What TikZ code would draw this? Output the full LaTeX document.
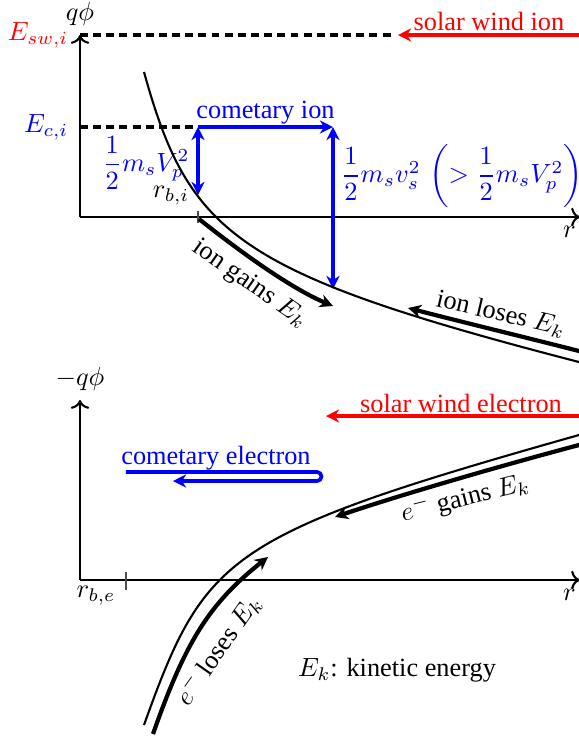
\documentclass[tikz,border=0pt]{standalone}
\usepackage{amsmath}
\usepackage[no-math]{fontspec}
\setmainfont{Liberation Serif}
\usetikzlibrary{arrows.meta,positioning}
\tikzset{hd/.tip={Stealth[length=5pt, width=5pt, inset=1.6pt]}}

\begin{document}
\begin{tikzpicture}[x=0.38pt, y=-0.38pt, axis/.style={thick, ->}, pot/.style={thick}, flow/.style={line width=1.6pt, -hd}, beam/.style={line width=1.4pt, -hd}, lvl/.style={line width=1.3pt, dash pattern=on 3pt off 2pt}, tick/.style={black!70}]
\useasboundingbox (0,0) rectangle (579,738);
% ion panel
\coordinate (o1) at (80,217); \coordinate (y1) at (80,35); \coordinate (x1) at (580,217);
\draw[axis] (o1) -- (y1);
\draw[axis] (o1) -- (x1);
\node[above=0pt of y1] (qi) {$q\phi$};
\node[below=0pt of x1, xshift=-4pt] (ri) {$r$};
\node[red, left=1pt of y1] (esw) {$E_{sw,i}$};
\coordinate (swend) at (393,35);
\draw[lvl] (y1) -- (swend);
\draw[beam, red] (620,35) -- (398,35);
\node[red] (swi) at (489,21) {solar wind ion};
\coordinate (ec) at (80,127); \coordinate (pa) at (198,127); \coordinate (pb) at (333,127);
\coordinate (ra) at (198,195); \coordinate (rb) at (333,289);
\node[blue, left=1pt of ec] (eci) {$E_{c,i}$};
\draw[lvl] (ec) -- (pa);
\draw[beam, blue] (pa) -- node[above, inner sep=0.5pt] (ci) {cometary ion} (pb);
\draw[beam, blue, hd-hd] (pa) -- (ra);
\draw[beam, blue, hd-hd] (pb) -- (rb);
\node[blue] (vp) at (146,163) {$\dfrac{1}{2}m_sV_p^2$};
\node[blue] (vs) at (462,176) {$\dfrac{1}{2}m_sv_s^2\,\left(>\dfrac{1}{2}m_sV_p^2\right)$};
\draw[tick] (198,211) -- (198,223);
\node (rbi) at (171,196) {$r_{b,i}$};
\draw[pot] (144,72) .. controls (189,234) and (235,273) .. (579,362) -- (620,373);
\draw[flow] (199,219) .. controls (238,250) and (290,288) .. (333,306);
\draw[flow] (620,361) -- (579,351) .. controls (520,336) and (462,322) .. (408,308);
\node[rotate=-35] (ig) at (250,284) {ion gains $E_k$};
\node[rotate=-13] (il) at (501,314) {ion loses $E_k$};
% electron panel
\coordinate (o2) at (80,580); \coordinate (y2) at (80,400); \coordinate (x2) at (580,580);
\draw[axis] (o2) -- (y2);
\draw[axis] (o2) -- (x2);
\node[above=0pt of y2] (qe) {$-q\phi$};
\node[below=0pt of x2, xshift=-4pt] (re) {$r$};
\draw[tick] (126,572) -- (126,590);
\node (rbe) at (96,596) {$r_{b,e}$};
\draw[beam, red] (620,416) -- (326,416);
\node[red] (swe) at (461,403) {solar wind electron};
\draw[beam, blue] (126,472) -- (317,472) arc[start angle=-90, end angle=90, radius=4.5] -- (173,481);
\node[blue, above, inner sep=0.5pt] (ce) at (216,472) {cometary electron};
\draw[pot] (144,725) .. controls (205,555) and (225,535) .. (579,435) -- (620,424);
\draw[flow] (620,455) -- (579,445) .. controls (500,466) and (400,495) .. (335,517);
\draw[flow] (153,734) .. controls (186,640) and (210,603) .. (268,557);
\node[rotate=14] (eg) at (465,498) {$e^-$ gains $E_k$};
\node[rotate=55] (el) at (218,650) {$e^-$ loses $E_k$};
\node (ek) at (397,670) {$E_k$: kinetic energy};
\end{tikzpicture}
\end{document}
